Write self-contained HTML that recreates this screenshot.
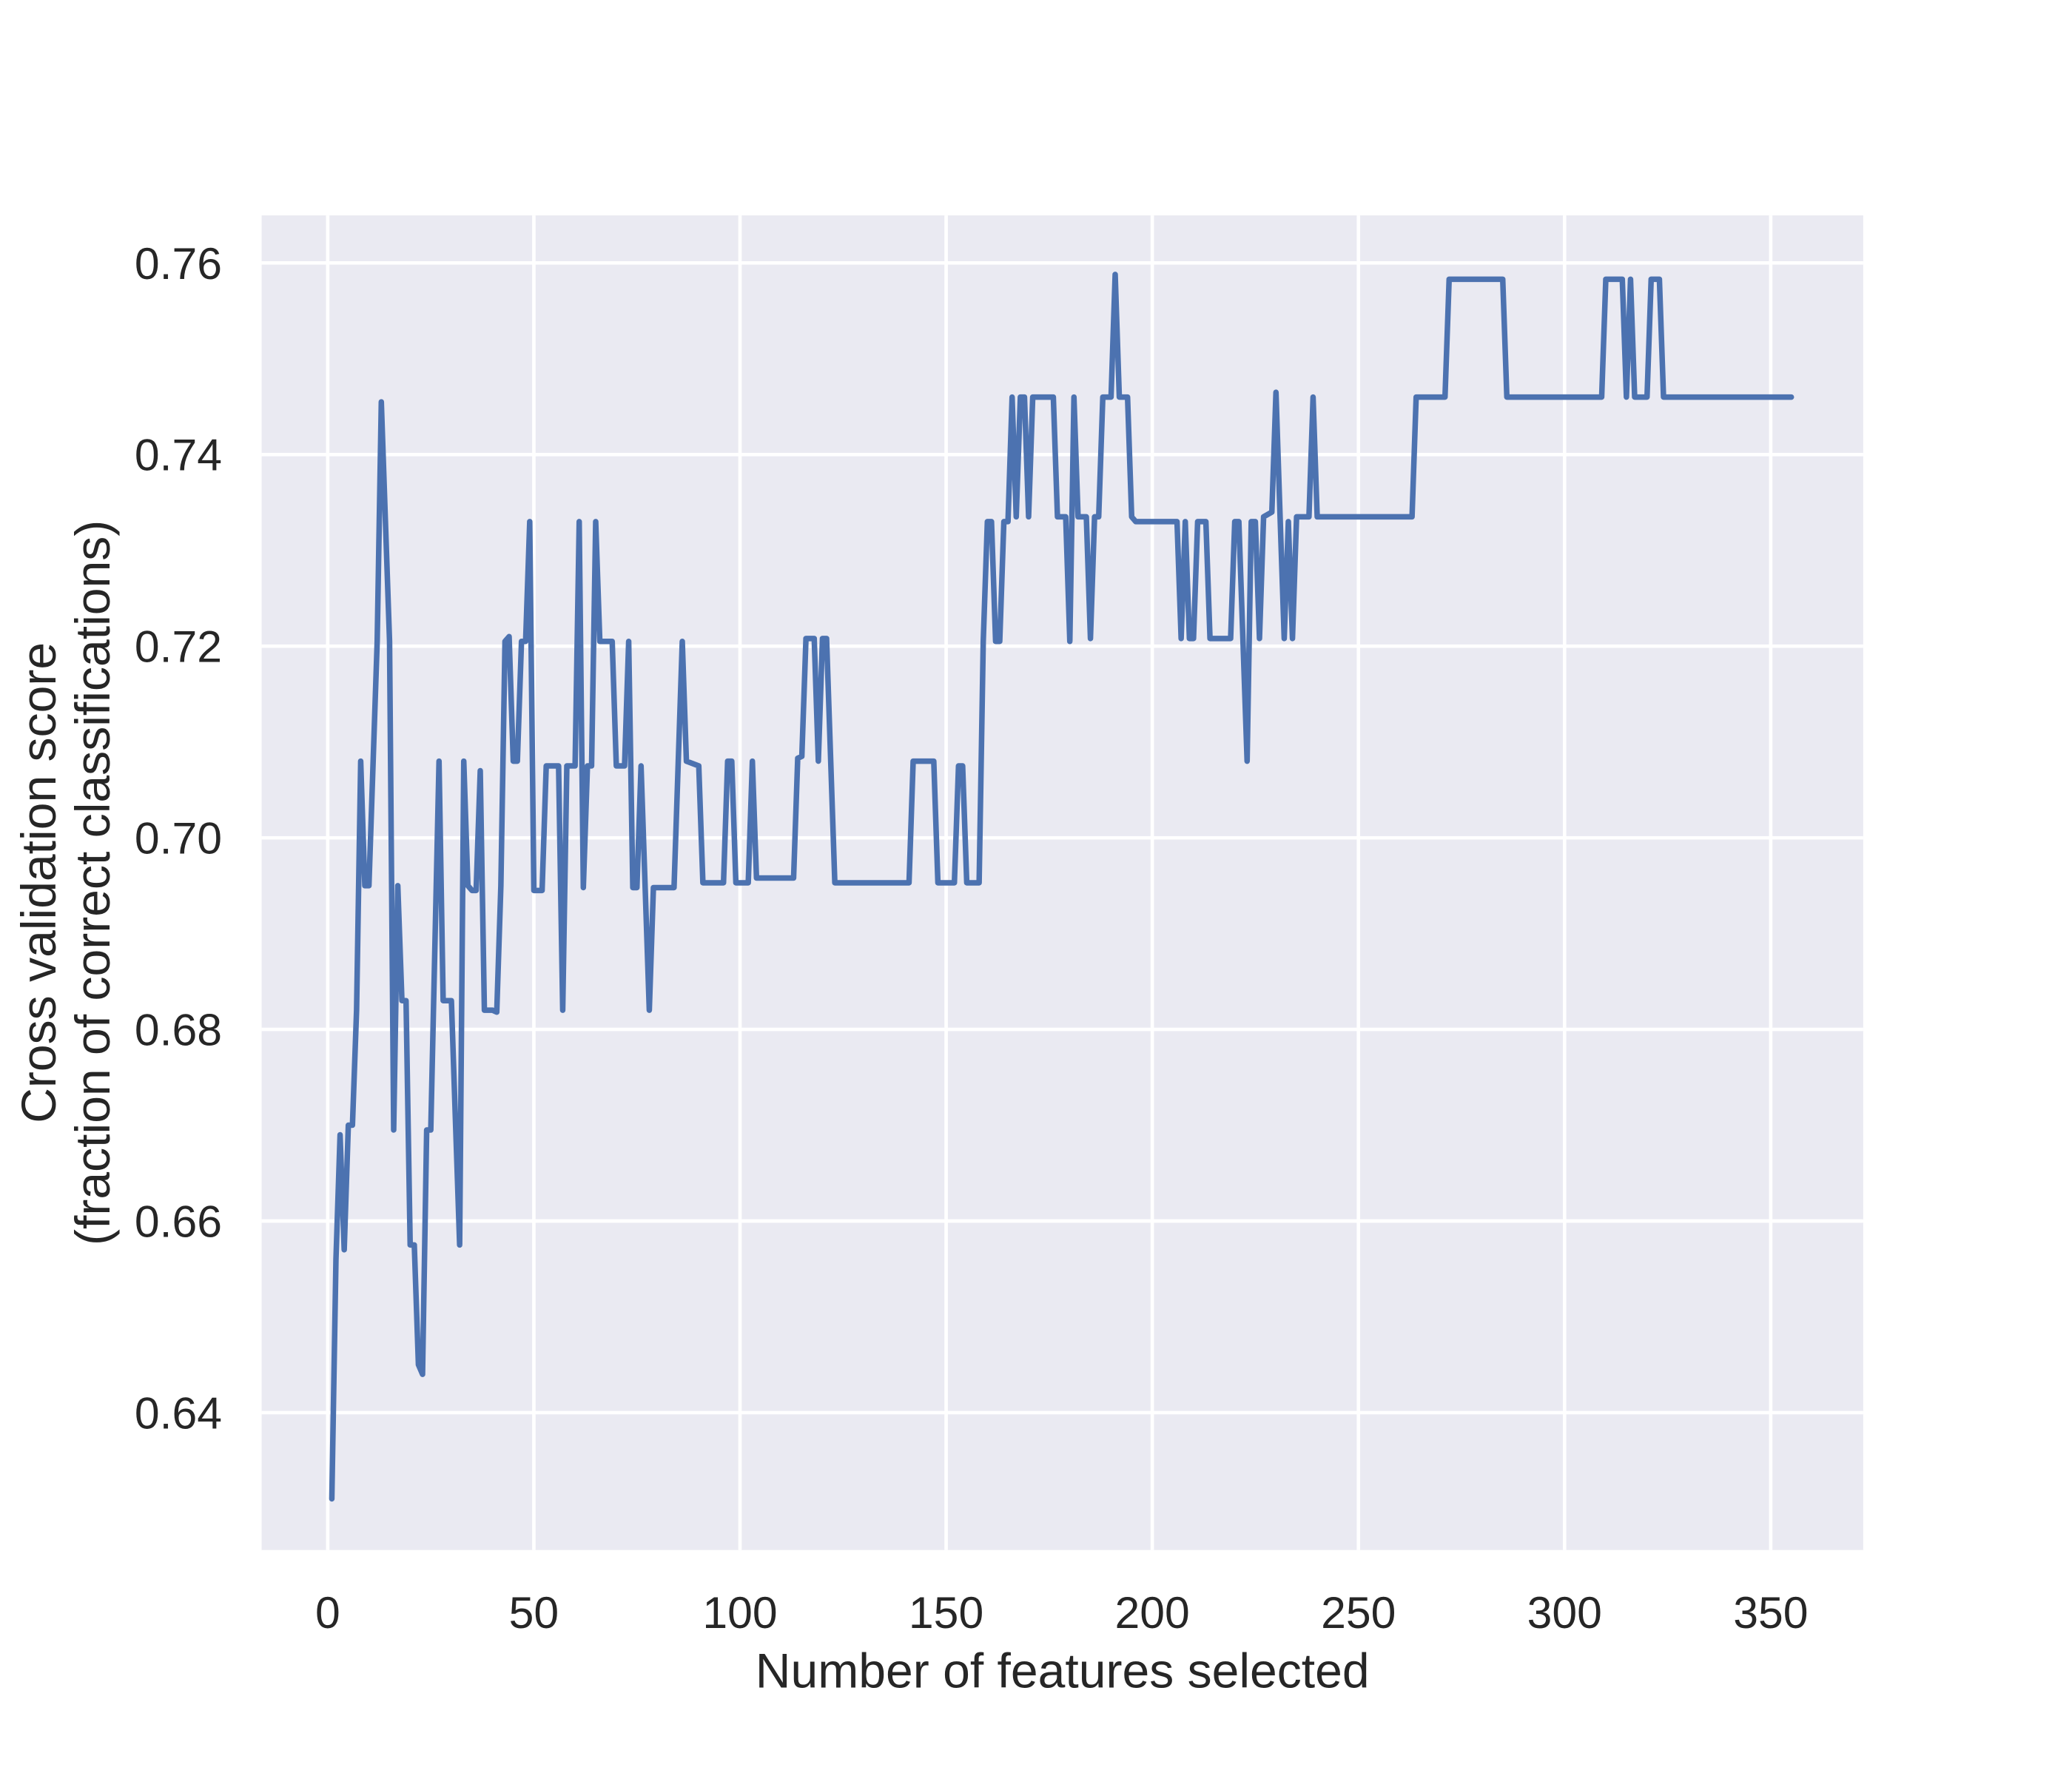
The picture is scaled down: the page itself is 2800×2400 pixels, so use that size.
<!DOCTYPE html>
<html><head><meta charset="utf-8"><style>
html,body{margin:0;padding:0;background:#fff;}
svg{display:block;}
text{font-family:"Liberation Sans",Arial,sans-serif;fill:#262626;}
</style></head><body>
<svg id="chart" width="2800" height="2400" viewBox="0 0 1568 1344" xmlns="http://www.w3.org/2000/svg">
<rect x="198" y="163" width="1212" height="1010" fill="#EAEAF2"/>
<g id="grid"></g>
<g id="xticks"></g>
<g id="yticks"></g>
<polyline id="series" fill="none" stroke="#4C72B0" stroke-width="4.2" stroke-linejoin="round" stroke-linecap="round"/>
<text x="804" y="1277" font-size="37" text-anchor="middle">Number of features selected</text>
<g transform="translate(48,668) rotate(-90)">
<text x="0" y="-6" font-size="37" text-anchor="middle">Cross validation score</text>
<text x="0" y="35" font-size="37" text-anchor="middle">(fraction of correct classifications)</text>
</g>
</svg>
<script>
const xTickValues = [0,50,100,150,200,250,300,350];
const yTickValues = [0.64,0.66,0.68,0.70,0.72,0.74,0.76];
const features = [1,2,3,4,5,6,7,8,9,10,12,13,15,16,17,18,19,20,21,22,23,24,25,27,28,30,32,33,34,35,36,37,38,40,41,42,43,44,45,46,47,48,49,50,52,53,56,57,58,60,61,62,63,64,65,66,69,70,72,73,74,75,76,78,79,84,86,87,90,91,96,97,98,99,102,103,104,113,114,115,116,118,119,120,121,123,141,142,147,148,152,153,154,155,158,159,160,161,162,163,164,165,166,167,168,169,170,171,176,177,179,180,181,182,184,185,186,187,188,190,191,192,194,195,196,206,207,208,209,210,211,213,214,219,220,221,223,224,225,226,227,229,230,231,232,233,234,235,238,239,240,263,264,271,272,285,286,309,310,314,315,316,317,320,321,323,324,355];
const scores = [0.631,0.656,0.669,0.657,0.670,0.670,0.682,0.708,0.695,0.695,0.7205,0.7455,0.7205,0.6695,0.695,0.683,0.683,0.6575,0.6575,0.645,0.644,0.6695,0.6695,0.708,0.683,0.683,0.6575,0.708,0.695,0.6945,0.6945,0.707,0.682,0.682,0.6818,0.695,0.7205,0.721,0.708,0.708,0.7205,0.7205,0.733,0.6945,0.6945,0.7075,0.7075,0.682,0.7075,0.7075,0.733,0.6948,0.7075,0.7075,0.733,0.7205,0.7205,0.7075,0.7075,0.7205,0.6948,0.6948,0.7075,0.682,0.6948,0.6948,0.7205,0.708,0.7075,0.6953,0.6953,0.708,0.708,0.6953,0.6953,0.708,0.6958,0.6958,0.7083,0.7085,0.7208,0.7208,0.708,0.7208,0.7208,0.6953,0.6953,0.708,0.708,0.6953,0.6953,0.7075,0.7075,0.6953,0.6953,0.7205,0.733,0.733,0.7205,0.7205,0.733,0.733,0.746,0.7335,0.746,0.746,0.7335,0.746,0.746,0.7335,0.7335,0.7205,0.746,0.7335,0.7335,0.7208,0.7335,0.7335,0.746,0.746,0.7588,0.746,0.746,0.7335,0.733,0.733,0.7208,0.733,0.7208,0.7208,0.733,0.733,0.7208,0.7208,0.733,0.733,0.708,0.733,0.733,0.7208,0.7335,0.734,0.7465,0.7335,0.7208,0.733,0.7208,0.7335,0.7335,0.746,0.7335,0.7335,0.746,0.746,0.7583,0.7583,0.746,0.746,0.7583,0.7583,0.746,0.7583,0.746,0.746,0.7583,0.7583,0.746,0.746];

const X = v => 248 + (v - 0) * 3.12;
const Y = v => 199 + (0.76 - v) * 7250;
const NS = "http://www.w3.org/2000/svg";
const grid = document.getElementById('grid');
const xt = document.getElementById('xticks');
const yt = document.getElementById('yticks');

xTickValues.forEach(v => {
  const l = document.createElementNS(NS,'line');
  
  
  l.setAttribute('x1', X(v)); l.setAttribute('x2', X(v));
  l.setAttribute('y1', 163); l.setAttribute('y2', 1173);
  l.setAttribute('stroke', '#fff'); l.setAttribute('stroke-width', '2.6');
  grid.appendChild(l);
  const t = document.createElementNS(NS,'text');
  
  
  t.setAttribute('x', X(v)); t.setAttribute('y', 1232);
  t.setAttribute('font-size', '34'); t.setAttribute('text-anchor', 'middle');
  t.textContent = String(v);
  xt.appendChild(t);
});
yTickValues.forEach(v => {
  const l = document.createElementNS(NS,'line');
  
  
  l.setAttribute('x1', 198); l.setAttribute('x2', 1410);
  l.setAttribute('y1', Y(v)); l.setAttribute('y2', Y(v));
  l.setAttribute('stroke', '#fff'); l.setAttribute('stroke-width', '2.6');
  grid.appendChild(l);
  const t = document.createElementNS(NS,'text');
  
  
  t.setAttribute('x', 168); t.setAttribute('y', Y(v) + 12);
  t.setAttribute('font-size', '34'); t.setAttribute('text-anchor', 'end');
  t.textContent = v.toFixed(2);
  yt.appendChild(t);
});
const pts = features.map((f, i) => X(f).toFixed(2) + ',' + Y(scores[i]).toFixed(2)).join(' ');
document.getElementById('series').setAttribute('points', pts);
</script>
</body></html>
